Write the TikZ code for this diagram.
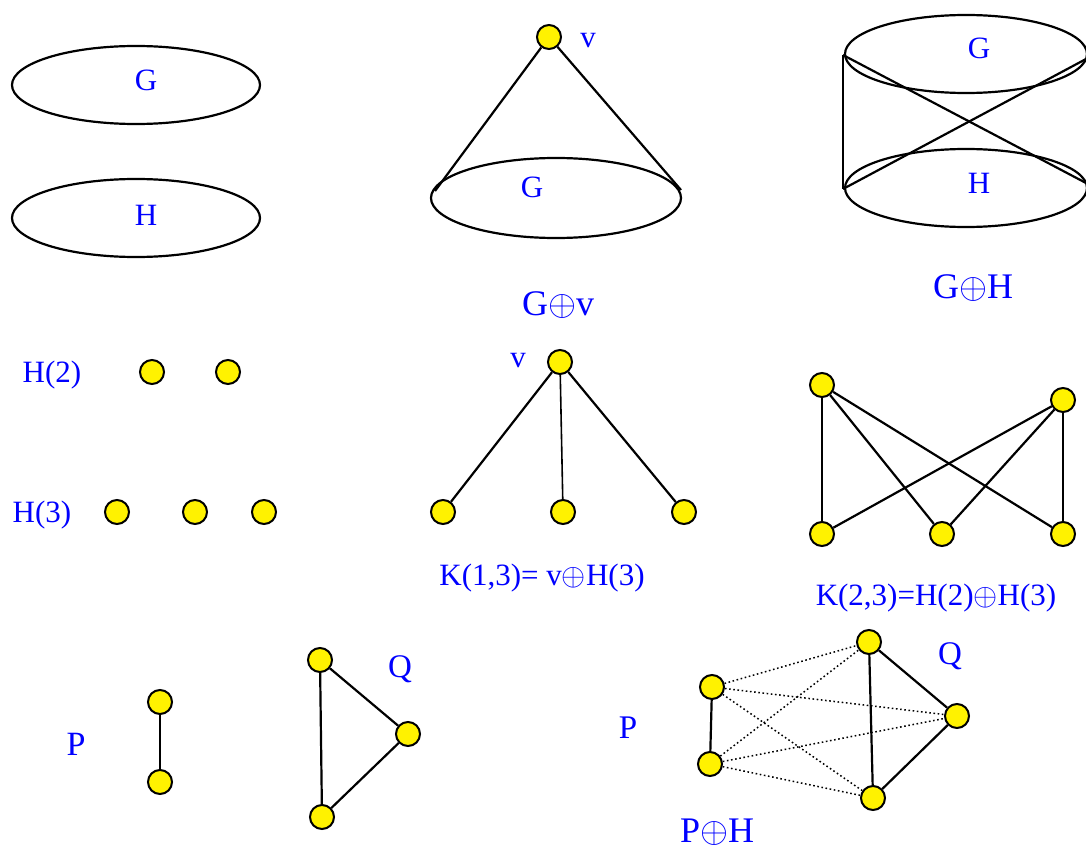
\RequirePackage{fix-cm}
\documentclass[tikz,border=0pt]{standalone}
\usepackage{fontspec}
\setmainfont{Liberation Serif}
\usetikzlibrary{shapes.geometric}
\tikzset{
  vtx/.style={circle, draw, fill=yellow, line width=2pt, minimum size=24pt, inner sep=0pt},
  lbl/.style={text=blue, font=\fontsize{31}{34}\selectfont, inner sep=0pt, anchor=base},
  biglbl/.style={text=blue, font=\fontsize{36}{40}\selectfont, inner sep=0pt, anchor=base},
  oval/.style={ellipse, draw, line width=2.2pt, inner sep=0pt},
  edge/.style={line width=2.2pt},
  dotedge/.style={line width=1.5pt, dash pattern=on 1.6pt off 2.6pt}
}
\newcommand{\myop}{\ensuremath{\oplus}}
\begin{document}
\begin{tikzpicture}[x=1pt,y=-1pt]
\useasboundingbox (0,0) rectangle (1086,848);
% --- top left: G and H
\node[oval, minimum width=248pt, minimum height=78pt] (G1) at (136,85) {};
\node[oval, minimum width=248pt, minimum height=78pt] (H1) at (136,218) {};
\node[lbl] (G1t) at (146,91) {G};
\node[lbl] (H1t) at (146,225) {H};
% --- top middle: cone
\node[oval, minimum width=250pt, minimum height=80pt] (G2) at (556,198) {};
\node[lbl] (G2t) at (532,197) {G};
\coordinate (G2l) at (435,191);
\coordinate (G2r) at (681,190);
\node[vtx] (v1) at (549,37) {};
\node[lbl] (v1t) at (588,48) {v};
\draw[edge] (v1) -- (G2l);
\draw[edge] (v1) -- (G2r);
\node[biglbl] (Gv) at (558,315) {G\myop v};
% --- top right: cylinder
\node[oval, minimum width=242pt, minimum height=78pt] (G3) at (966,54) {};
\node[oval, minimum width=242pt, minimum height=78pt] (H3) at (966,188) {};
\node[lbl] (G3t) at (979,59) {G};
\node[lbl] (H3t) at (979,193) {H};
\coordinate (c1) at (843,55);
\coordinate (c2) at (843,189);
\coordinate (c3) at (1086,183);
\coordinate (c4) at (1086,59);
\draw[edge] (c1) -- (c2);
\draw[edge] (c1) -- (c3);
\draw[edge] (c2) -- (c4);
\node[biglbl] (GH) at (973,298) {G\myop H};
% --- H(2), H(3)
\node[lbl] (H2t) at (52,382) {H(2)};
\node[vtx] (a1) at (152,372) {};
\node[vtx] (a2) at (228,372) {};
\node[lbl] (H3lab) at (42,522) {H(3)};
\node[vtx] (b1) at (117,512) {};
\node[vtx] (b2) at (195,512) {};
\node[vtx] (b3) at (264,512) {};
% --- K(1,3)
\node[vtx] (k0) at (560,362) {};
\node[lbl] (k0t) at (518,367) {v};
\node[vtx] (k1) at (443,512) {};
\node[vtx] (k2) at (563,512) {};
\node[vtx] (k3) at (684,512) {};
\draw[edge] (k0) -- (k1);
\draw[line width=1.6pt] (k0) -- (k2);
\draw[edge] (k0) -- (k3);
\node[lbl] (K13) at (542,585) {K(1,3)= v\myop H(3)};
% --- K(2,3)
\node[vtx] (t1) at (822,385) {};
\node[vtx] (t2) at (1063,400) {};
\node[vtx] (s1) at (822,534) {};
\node[vtx] (s2) at (942,534) {};
\node[vtx] (s3) at (1063,534) {};
\foreach \t in {t1,t2}{\foreach \s in {s1,s2,s3}{\draw[edge] (\t) -- (\s);}}
\node[lbl] (K23) at (936,605) {K(2,3)=H(2)\myop H(3)};
% --- P and Q
\node[biglbl, font=\fontsize{34}{38}\selectfont] (Pt) at (76,755) {P};
\node[vtx] (p1) at (160,702) {};
\node[vtx] (p2) at (160,782) {};
\draw[edge] (p1) -- (p2);
\node[vtx] (q1) at (320,660) {};
\node[vtx] (q2) at (408,734) {};
\node[vtx] (q3) at (322,817) {};
\node[lbl, font=\fontsize{33}{36}\selectfont] (Qt) at (400,677) {Q};
\draw[edge] (q1) -- (q3);
\draw[edge] (q1) -- (q2);
\draw[edge] (q2) -- (q3);
% --- P join Q
\node[vtx] (r1) at (712,687) {};
\node[vtx] (r2) at (710,764) {};
\node[vtx] (u1) at (869,642) {};
\node[vtx] (u2) at (957,716) {};
\node[vtx] (u3) at (873,798) {};
\node[lbl, font=\fontsize{33}{36}\selectfont] (P2t) at (628,738) {P};
\node[lbl, font=\fontsize{33}{36}\selectfont] (Q2t) at (950,664) {Q};
\foreach \r in {r1,r2}{\foreach \u in {u1,u2,u3}{\draw[dotedge] (\r) -- (\u);}}
\draw[edge] (r1) -- (r2);
\draw[edge] (u1) -- (u3);
\draw[edge] (u1) -- (u2);
\draw[edge] (u2) -- (u3);
\node[biglbl] (PH) at (717,842) {P\myop H};
\end{tikzpicture}
\end{document}
